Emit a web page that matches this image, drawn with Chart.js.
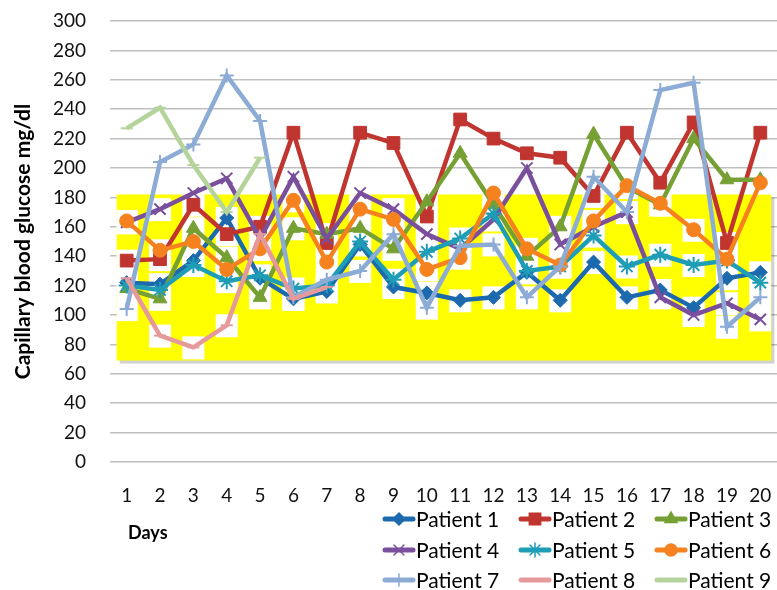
<!DOCTYPE html>
<html lang="en">
<head>
    <meta charset="UTF-8">
    <title>Capillary blood glucose</title>
    <script src="https://cdn.jsdelivr.net/npm/chart.js"></script>
    <style>
        html, body { margin: 0; padding: 0; background: #fff; }
        #wrap { width: 777px; height: 590px; position: relative; }
    </style>
</head>
<body>
    <div id="wrap">
        <canvas id="grafico" width="777" height="590"></canvas>
    </div>

<script>
    // data
    const days = ['1', '2', '3', '4', '5', '6', '7', '8', '9', '10',
                  '11', '12', '13', '14', '15', '16', '17', '18', '19', '20'];

    const patient1 = [122, 121, 137, 166, 125, 111, 116, 148, 119, 115, 110, 112, 129, 110, 136, 112, 117, 105, 125, 129];
    const patient2 = [137, 138, 175, 155, 160, 224, 149, 224, 217, 167, 233, 220, 210, 207, 181, 224, 190, 231, 149, 224];
    const patient3 = [118, 111, 159, 139, 112, 159, 155, 159, 145, 177, 210, 175, 140, 160, 223, 187, 175, 220, 192, 192];
    const patient4 = [163, 172, 183, 193, 152, 194, 152, 183, 172, 155, 145, 165, 200, 148, 160, 170, 112, 100, 108, 97];
    const patient5 = [120, 117, 134, 123, 127, 118, 120, 150, 124, 143, 152, 169, 130, 133, 154, 133, 141, 134, 137, 122];
    const patient6 = [164, 144, 150, 131, 145, 178, 136, 172, 165, 131, 139, 183, 145, 134, 164, 188, 176, 158, 138, 190];
    const patient7 = [104, 204, 216, 263, 232, 112, 124, 130, 155, 105, 147, 148, 112, 133, 194, 170, 253, 258, 92, 112];
    const patient8 = [125, 86, 78, 93, 155, 111, 119];
    const patient9 = [227, 241, 202, 170, 207];

    const yTicks = { min: 0, max: 300, step: 20 };
    const targetBand = [69, 182];   // yellow zone

    const series = [
        { nome: 'Patient 1', dados: patient1, cor: '#1C6AAD', ponto: 'rectRot', raio: 7 },
        { nome: 'Patient 2', dados: patient2, cor: '#C0352F', ponto: 'rect', raio: 9 },
        { nome: 'Patient 3', dados: patient3, cor: '#76A034', ponto: 'triangle', raio: 8 },
        { nome: 'Patient 4', dados: patient4, cor: '#7A4F9C', ponto: 'crossRot', raio: 8 },
        { nome: 'Patient 5', dados: patient5, cor: '#1F9DB6', ponto: 'star', raio: 8 },
        { nome: 'Patient 6', dados: patient6, cor: '#F5821F', ponto: 'circle', raio: 7 },
        { nome: 'Patient 7', dados: patient7, cor: '#8CACD6', ponto: 'cross', raio: 7 },
        { nome: 'Patient 8', dados: patient8, cor: '#E6999A', ponto: 'line', raio: 6 },
        { nome: 'Patient 9', dados: patient9, cor: '#B4D49B', ponto: 'line', raio: 6 }
    ];

    // yellow band behind the lines (with the white holes around markers)
    const faixa = {
        id: 'faixa',
        beforeDatasetsDraw(chart) {
            const { ctx, scales: { x, y } } = chart;
            const x0 = x.getPixelForValue(0) - 10;
            const x1 = x.getPixelForValue(days.length - 1) + 11;
            const y0 = y.getPixelForValue(targetBand[1]);
            const y1 = y.getPixelForValue(targetBand[0]);
            ctx.save();
            ctx.fillStyle = 'rgba(0,0,0,0.18)';
            ctx.fillRect(x0 + 3, y0 + 3, x1 - x0, y1 - y0);
            ctx.fillStyle = '#FFFF00';
            ctx.fillRect(x0, y0, x1 - x0, y1 - y0);

            ctx.beginPath();
            ctx.rect(x0, y0, x1 - x0, y1 - y0);
            ctx.clip();
            ctx.fillStyle = '#FFFFFF';
            chart.data.datasets.forEach((ds, i) => {
                if (i > 7) return;
                chart.getDatasetMeta(i).data.forEach(pt => {
                    ctx.fillRect(pt.x - 11, pt.y - 11, 22, 23);
                });
            });
            ctx.restore();
        }
    };

    // legend in 3 columns + "Days" caption
    const legenda = {
        id: 'legenda',
        afterDraw(chart) {
            const ctx = chart.ctx;
            const colX = [416, 552, 688];
            const rowY = [519, 550, 580];
            ctx.save();
            ctx.font = 'bold 18px Lato';
            ctx.fillStyle = '#000';
            ctx.textBaseline = 'middle';
            ctx.textAlign = 'left';
            ctx.fillText('Days', 128, 533);

            series.forEach((s, i) => {
                const cx = colX[i % 3];
                const cy = rowY[Math.floor(i / 3)];
                ctx.strokeStyle = s.cor;
                ctx.lineWidth = 5;
                ctx.lineCap = 'round';
                ctx.beginPath();
                ctx.moveTo(cx - 31, cy);
                ctx.lineTo(cx - 3, cy);
                ctx.stroke();
                if (s.ponto !== 'line') {
                    ctx.fillStyle = s.cor;
                    ctx.lineWidth = 1.5;
                    Chart.helpers.drawPoint(ctx, { pointStyle: s.ponto, radius: s.raio - 1, rotation: 0, borderWidth: 1.5 }, cx - 17, cy);
                }
                ctx.fillStyle = '#000';
                ctx.font = '21px Lato';
                ctx.fillText(s.nome, cx, cy + 1);
            });
            ctx.restore();
        }
    };

    const ctx = document.getElementById('grafico').getContext('2d');

    new Chart(ctx, {
        type: 'line',
        data: {
            labels: days,
            datasets: series.map((s, i) => ({
                label: s.nome,
                data: s.dados,
                borderColor: s.cor,
                backgroundColor: s.cor,
                pointBorderColor: s.cor,
                pointBackgroundColor: s.cor,
                pointStyle: s.ponto,
                pointRadius: s.raio,
                pointBorderWidth: s.ponto === 'crossRot' || s.ponto === 'star' || s.ponto === 'cross' || s.ponto === 'line' ? 2 : 1,
                borderWidth: 4.5,
                tension: 0,
                fill: false,
                clip: false,
                order: series.length - i
            }))
        },
        options: {
            responsive: false,
            animation: false,
            devicePixelRatio: 1,
            layout: { autoPadding: false, padding: { top: 21, right: 0, bottom: 0, left: 0 } },
            plugins: {
                legend: { display: false },
                tooltip: { enabled: false }
            },
            scales: {
                x: {
                    offset: true,
                    grid: {
                        display: true,
                        drawOnChartArea: false,
                        drawTicks: true,
                        tickLength: 19,
                        color: 'rgba(0,0,0,0)'
                    },
                    border: { display: false },
                    ticks: {
                        color: '#111',
                        padding: 3,
                        maxRotation: 0,
                        autoSkip: false,
                        font: { family: 'Lato', size: 19 }
                    },
                    afterFit(scale) {
                        scale.height = 128;
                        scale.paddingLeft = 0;
                        scale.paddingRight = 0;
                    }
                },
                y: {
                    min: yTicks.min,
                    max: yTicks.max,
                    grid: { color: '#BFBFBF', lineWidth: 1.5, drawTicks: false },
                    border: { display: false },
                    ticks: {
                        stepSize: yTicks.step,
                        color: '#111',
                        padding: 24,
                        font: { family: 'Lato', size: 19 }
                    },
                    title: {
                        display: true,
                        text: 'Capillary blood glucose mg/dl',
                        color: '#000',
                        padding: { top: 11, bottom: 0 },
                        font: { family: 'Lato', size: 21, weight: 'bold' }
                    },
                    afterFit(scale) {
                        scale.width = 110;
                        scale.paddingTop = 0;
                        scale.paddingBottom = 0;
                    }
                }
            }
        },
        plugins: [faixa, legenda]
    });
</script>
</body>
</html>
